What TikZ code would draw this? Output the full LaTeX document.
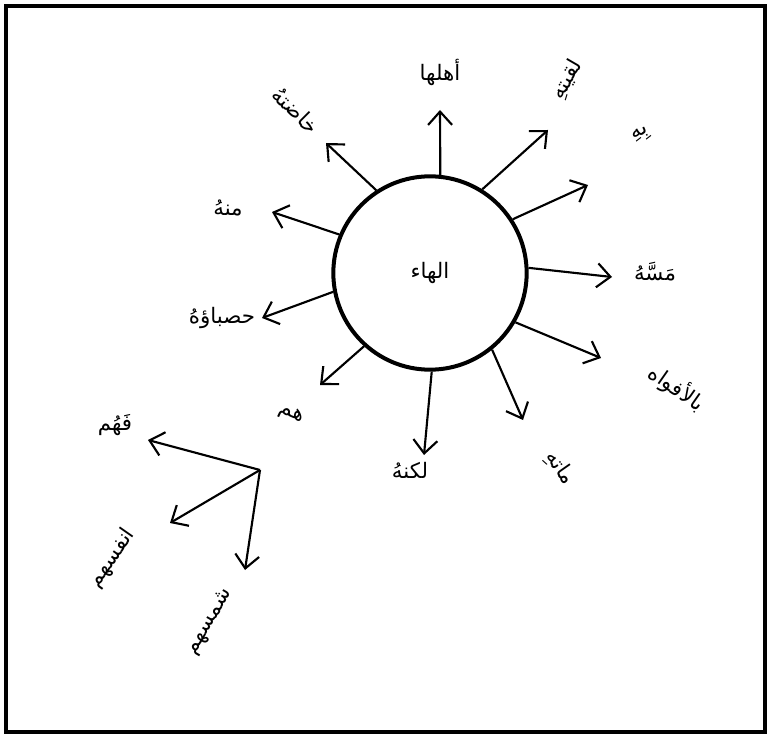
\documentclass[tikz,border=0pt]{standalone}
\usepackage{fontspec}
\setmainfont{Liberation Sans}
\newfontfamily\arabicfont[Script=Arabic]{DejaVu Sans}
\TeXXeTstate=1
\usetikzlibrary{positioning,arrows.meta}
\definecolor{hwInk}{RGB}{0,0,0}
\tikzset{
  arr/.style={hwInk, line width=1.6pt, -{Straight Barb[length=10pt,width=18pt,line width=1.6pt]}},
  lbl/.style={font=\arabicfont\fontsize{16}{18}\selectfont, inner sep=1pt},
}
\begin{document}
\begin{tikzpicture}[x=0.75pt, y=-0.75pt]
  \useasboundingbox (0,0) rectangle (771,738);
  \draw[hwInk, line width=2.6pt] (6,6) rectangle (765,732);

  % the centre circle
  \node[circle, draw=hwInk, line width=3pt, minimum size=145pt, inner sep=0pt, lbl] (haa) at (430,273) {\beginR الهاء\endR};

  % arrow tips
  \coordinate (t1) at (440,110);
  \coordinate (t2) at (548,130);
  \coordinate (t3) at (588,185);
  \coordinate (t4) at (612,277);
  \coordinate (t5) at (601,358);
  \coordinate (t6) at (523,420);
  \coordinate (t7) at (424,455);
  \coordinate (t8) at (320,385);
  \coordinate (t9) at (262,318);
  \coordinate (t10) at (272,212);
  \coordinate (t11) at (326,143);

  \draw[arr] (haa.84) -- (t1);
  \draw[arr] (haa.58) -- (t2);
  \draw[arr] (haa.33) -- (t3);
  \draw[arr] (haa.3) -- (t4);
  \draw[arr] (haa.-30) -- (t5);
  \draw[arr] (haa.-51) -- (t6);
  \draw[arr] (haa.-89) -- (t7);
  \draw[arr] (haa.-132) -- (t8);
  \draw[arr] (haa.-169) -- (t9);
  \draw[arr] (haa.157) -- (t10);
  \draw[arr] (haa.123) -- (t11);

  % labels round the circle
  \node[lbl] (ahlaha) at (440,72) {\beginR أهلها\endR};
  \node[lbl, rotate=60] (laqituh) at (567,80) {\beginR لقيتهِ\endR};
  \node[lbl, rotate=25] (bihi) at (641,135) {\beginR بِهِ\endR};
  \node[lbl] (massahu) at (655,272) {\beginR مَسَّهُ\endR};
  \node[lbl, rotate=-35] (afwah) at (677,388) {\beginR بالأفواه\endR};
  \node[lbl, rotate=-55] (matih) at (560,468) {\beginR ماتهِ\endR};
  \node[lbl] (lakinnahu) at (410,470) {\beginR لكنهُ\endR};
  \node[lbl] (hasbauh) at (222,318) {\beginR حصباؤهُ\endR};
  \node[lbl] (minhu) at (228,208) {\beginR منهُ\endR};
  \node[lbl, rotate=-45] (khadatuh) at (296,110) {\beginR خاضتهُ\endR};

  % the second group
  \node[lbl, rotate=-25] (hum) at (291,414) {\beginR هم\endR};
  \coordinate (hub) at (260,470);
  \coordinate (s1) at (148,440);
  \coordinate (s2) at (170,523);
  \coordinate (s3) at (245,570);
  \draw[arr] (hub) -- (s1);
  \draw[arr] (hub) -- (s2);
  \draw[arr] (hub) -- (s3);
  \node[lbl] (fahum) at (115,425) {\beginR فَهُم\endR};
  \node[lbl, rotate=55] (anfusihim) at (112,558) {\beginR انفسهم\endR};
  \node[lbl, rotate=60] (shamsihim) at (210,622) {\beginR شمسهم\endR};
\end{tikzpicture}
\end{document}
